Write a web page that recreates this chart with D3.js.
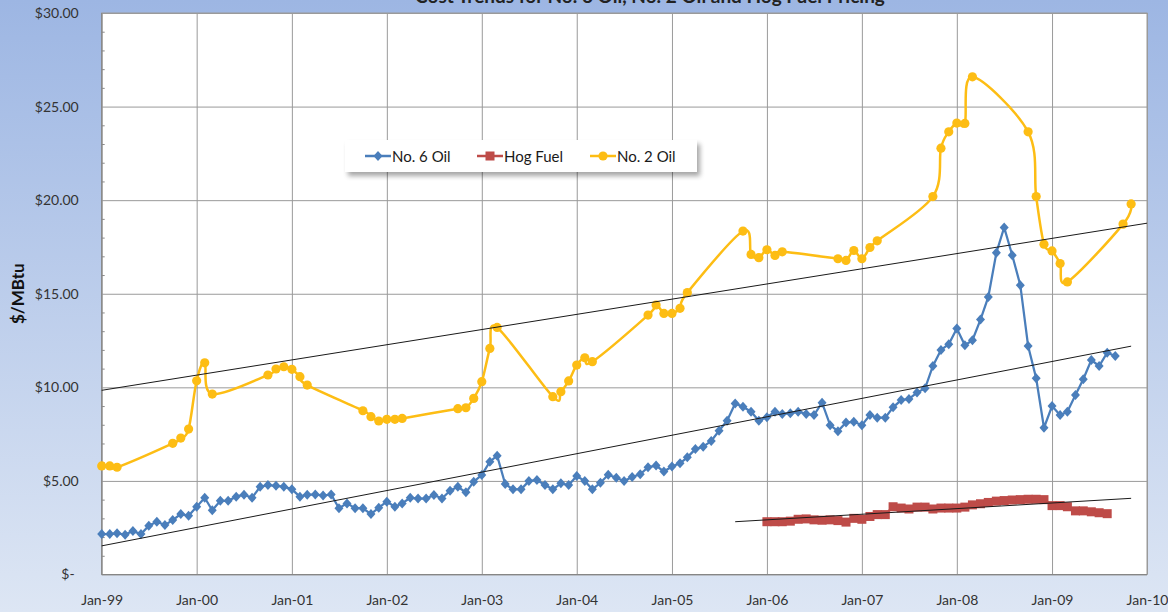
<!DOCTYPE html>
<html>
<head>
<meta charset="utf-8">
<script src="https://cdn.jsdelivr.net/npm/d3@7"></script>
<style>
  body { margin: 0; background: #fff; }
  svg { display: block; font-family: Lato, "Open Sans", sans-serif; }
</style>
</head>
<body>
<svg id="chart" width="1168" height="612"></svg>
<script>
// No. 6 Oil - monthly, starting Jan-99
const no6Start = "1999-01";
const no6Values = [
  2.16, 2.16, 2.20, 2.13, 2.32, 2.16, 2.61, 2.82, 2.64, 2.91, 3.23, 3.14,
  3.62, 4.10, 3.43, 3.94, 3.94, 4.16, 4.26, 4.10, 4.69, 4.78, 4.74, 4.69,
  4.55, 4.16, 4.26, 4.28, 4.22, 4.28, 3.54, 3.80, 3.54, 3.54, 3.23, 3.57,
  3.89, 3.62, 3.80, 4.10, 4.06, 4.06, 4.25, 4.06, 4.48, 4.69, 4.39, 4.96,
  5.32, 6.03, 6.35, 4.83, 4.55, 4.55, 4.99, 5.05, 4.78, 4.55, 4.87, 4.78,
  5.26, 4.99, 4.55, 4.90, 5.33, 5.17, 4.99, 5.21, 5.35, 5.73, 5.82, 5.50,
  5.77, 5.94, 6.26, 6.70, 6.83, 7.13, 7.68, 8.22, 9.14, 8.96, 8.70, 8.22,
  8.40, 8.70, 8.58, 8.61, 8.70, 8.58, 8.52, 9.18, 7.98, 7.66, 8.12, 8.16,
  7.98, 8.52, 8.38, 8.38, 8.93, 9.32, 9.38, 9.72, 9.95, 11.14, 12.00, 12.30,
  13.14, 12.25, 12.52, 13.62, 14.83, 17.19, 18.54, 17.06, 15.46, 12.21, 10.48, 7.84,
  9.00, 8.52, 8.70, 9.59, 10.43, 11.46, 11.14, 11.85, 11.67
];

// No. 2 Oil - heating season months only
const no2Months = [
  "1999-01", "1999-02", "1999-03", "1999-10", "1999-11", "1999-12",
  "2000-01", "2000-02", "2000-03", "2000-10", "2000-11", "2000-12",
  "2001-01", "2001-02", "2001-03", "2001-10", "2001-11", "2001-12",
  "2002-01", "2002-02", "2002-03", "2002-10", "2002-11", "2002-12",
  "2003-01", "2003-02", "2003-03", "2003-10", "2003-11", "2003-12",
  "2004-01", "2004-02", "2004-03", "2004-10", "2004-11", "2004-12",
  "2005-01", "2005-02", "2005-03", "2005-10", "2005-11", "2005-12",
  "2006-01", "2006-02", "2006-03", "2006-10", "2006-11", "2006-12",
  "2007-01", "2007-02", "2007-03", "2007-10", "2007-11", "2007-12",
  "2008-01", "2008-02", "2008-03", "2008-10", "2008-11", "2008-12",
  "2009-01", "2009-02", "2009-03", "2009-10", "2009-11"
];
const no2Values = [
  5.80, 5.80, 5.73, 7.01, 7.29, 7.77,
  10.35, 11.31, 9.64, 10.66, 10.98, 11.10,
  10.96, 10.57, 10.12, 8.75, 8.43, 8.20,
  8.29, 8.29, 8.34, 8.86, 8.91, 9.41,
  10.30, 12.08, 13.20, 9.50, 9.77, 10.34,
  11.19, 11.58, 11.37, 13.86, 14.40, 13.95,
  13.95, 14.22, 15.06, 18.35, 17.10, 16.93,
  17.35, 17.05, 17.24, 16.87, 16.78, 17.31,
  16.87, 17.47, 17.83, 20.19, 22.78, 23.65,
  24.12, 24.10, 26.59, 23.65, 20.19, 17.65,
  17.29, 16.61, 15.63, 18.72, 19.80
];

// Hog Fuel - monthly, starting Jan-06
const hogStart = "2006-01";
const hogValues = [
  2.82, 2.82, 2.82, 2.85, 2.95, 2.97, 2.92, 2.90, 2.92, 2.88, 2.80, 3.00,
  2.95, 3.10, 3.20, 3.20, 3.62, 3.55, 3.50, 3.60, 3.60, 3.50, 3.55, 3.55,
  3.55, 3.60, 3.72, 3.78, 3.85, 3.92, 3.95, 3.98, 4.00, 4.02, 4.02, 4.00,
  3.68, 3.68, 3.62, 3.40, 3.40, 3.35, 3.30, 3.25
];

// linear trend lines, end points
const trend6 = [["1999-01", 1.53], ["2009-11", 12.20]];
const trend2 = [["1999-01", 9.84], ["2010-01", 18.77]];
const trendHog = [["2005-09", 2.82], ["2009-11", 4.07]];

const yTicks = [0, 5, 10, 15, 20, 25, 30];
const yMinorTicks = d3.range(1, 30).filter(v => v % 5 !== 0);
const xTickYears = ["1999", "2000", "2001", "2002", "2003", "2004", "2005", "2006", "2007", "2008", "2009", "2010"];

const seriesNames = ["No. 6 Oil", "Hog Fuel", "No. 2 Oil"];
const colors = { no6: "#4a7ebb", hog: "#be4b48", no2: "#fdbd14" };

const parseMonth = d3.timeParse("%Y-%m");

const svg = d3.select("#chart");
const W = 1168, H = 612;
const plot = { left: 101.7, right: 1147, top: 13, bottom: 574.5 };

// background gradient around the plot
const defs = svg.append("defs");
const grad = defs.append("linearGradient").attr("id", "bg")
    .attr("x1", 0).attr("y1", 0).attr("x2", 0).attr("y2", 1);
grad.append("stop").attr("offset", "0%").attr("stop-color", "#9db6e3");
grad.append("stop").attr("offset", "100%").attr("stop-color", "#dde6f4");

const shadow = defs.append("filter").attr("id", "shadow")
    .attr("x", "-10%").attr("y", "-30%").attr("width", "130%").attr("height", "190%");
shadow.append("feGaussianBlur").attr("stdDeviation", 2.5);

svg.append("rect").attr("width", W).attr("height", H).attr("fill", "url(#bg)");

// title, mostly cut off at the top
svg.append("text")
    .attr("x", 650).attr("y", 3)
    .attr("text-anchor", "middle")
    .attr("font-size", 19).attr("font-weight", "bold")
    .attr("fill", "#222")
    .text("Cost Trends for No. 6 Oil, No. 2 Oil and Hog Fuel Pricing");

// scales
const x = d3.scaleTime()
    .domain([parseMonth("1999-01"), parseMonth("2010-01")])
    .range([plot.left, plot.right]);
const y = d3.scaleLinear()
    .domain([0, 30])
    .range([plot.bottom, plot.top]);

svg.append("rect")
    .attr("x", plot.left).attr("y", plot.top)
    .attr("width", plot.right - plot.left).attr("height", plot.bottom - plot.top)
    .attr("fill", "#fff").attr("stroke", "#9a9a9a");

const xTickDates = xTickYears.map(yr => parseMonth(yr + "-01"));

// grid lines
svg.append("g")
    .attr("transform", `translate(0,${plot.bottom})`)
    .call(d3.axisBottom(x).tickValues(xTickDates).tickSize(-(plot.bottom - plot.top)).tickFormat(""))
    .call(g => g.select(".domain").remove())
    .call(g => g.selectAll("line").attr("stroke", "#9a9a9a"));

svg.append("g")
    .attr("transform", `translate(${plot.left},0)`)
    .call(d3.axisLeft(y).tickValues(yTicks).tickSize(-(plot.right - plot.left)).tickFormat(""))
    .call(g => g.select(".domain").remove())
    .call(g => g.selectAll("line").attr("stroke", "#9a9a9a"));

// minor ticks on the value axis (inside)
svg.append("g")
    .attr("transform", `translate(${plot.left},0)`)
    .call(d3.axisRight(y).tickValues(yMinorTicks).tickSize(3).tickFormat(""))
    .call(g => g.select(".domain").remove())
    .call(g => g.selectAll("line").attr("stroke", "#8a8a8a"));

// axis lines
svg.append("line")
    .attr("x1", plot.left).attr("x2", plot.left)
    .attr("y1", plot.top).attr("y2", plot.bottom)
    .attr("stroke", "#868686");
svg.append("line")
    .attr("x1", plot.left).attr("x2", plot.right)
    .attr("y1", plot.bottom).attr("y2", plot.bottom)
    .attr("stroke", "#868686");

// tick labels
const fmtMoney = d3.format("$,.2f");
svg.append("g")
    .attr("transform", `translate(${plot.left - 20},0)`)
    .call(d3.axisLeft(y).tickValues(yTicks).tickSize(0)
        .tickFormat(d => d === 0 ? "$-" : fmtMoney(d)))
    .call(g => g.select(".domain").remove())
    .call(g => g.selectAll("text")
        .attr("font-family", "Lato, sans-serif")
        .attr("font-size", 14).attr("fill", "#333")
        .attr("dx", d => d === 0 ? -4 : 0));

svg.append("g")
    .attr("transform", `translate(0,${plot.bottom + 18})`)
    .call(d3.axisBottom(x).tickValues(xTickDates).tickSize(0).tickFormat(d3.timeFormat("%b-%y")))
    .call(g => g.select(".domain").remove())
    .call(g => g.selectAll("text")
        .attr("font-family", "Lato, sans-serif")
        .attr("font-size", 14).attr("fill", "#333"));

// y axis title
svg.append("text")
    .attr("transform", `translate(24,${(plot.top + plot.bottom) / 2}) rotate(-90)`)
    .attr("text-anchor", "middle")
    .attr("font-size", 17).attr("font-weight", "bold")
    .attr("fill", "#111")
    .text("$/MBtu");

// build data
const no6Data = no6Values.map((v, i) => ({ date: d3.timeMonth.offset(parseMonth(no6Start), i), value: v }));
const no2Data = no2Months.map((m, i) => ({ date: parseMonth(m), value: no2Values[i] }));
const hogData = hogValues.map((v, i) => ({ date: d3.timeMonth.offset(parseMonth(hogStart), i), value: v }));

const lineStraight = d3.line().x(d => x(d.date)).y(d => y(d.value));
const lineSmooth = d3.line().x(d => x(d.date)).y(d => y(d.value)).curve(d3.curveCardinal.tension(0));

const diamond = "M0,-5L4.5,0L0,5L-4.5,0Z";

// Hog fuel
svg.append("path").datum(hogData)
    .attr("d", lineStraight)
    .attr("fill", "none").attr("stroke", colors.hog).attr("stroke-width", 2.5);
svg.append("g").selectAll("rect").data(hogData).join("rect")
    .attr("x", d => x(d.date) - 4.5).attr("y", d => y(d.value) - 4.5)
    .attr("width", 9).attr("height", 9)
    .attr("fill", colors.hog);

// No. 6 oil
svg.append("path").datum(no6Data)
    .attr("d", lineStraight)
    .attr("fill", "none").attr("stroke", colors.no6).attr("stroke-width", 2.25);
svg.append("g").selectAll("path").data(no6Data).join("path")
    .attr("transform", d => `translate(${x(d.date)},${y(d.value)})`)
    .attr("d", diamond)
    .attr("fill", colors.no6);

// No. 2 oil
svg.append("path").datum(no2Data)
    .attr("d", lineSmooth)
    .attr("fill", "none").attr("stroke", colors.no2).attr("stroke-width", 2.5);
svg.append("g").selectAll("circle").data(no2Data).join("circle")
    .attr("cx", d => x(d.date)).attr("cy", d => y(d.value))
    .attr("r", 4.6)
    .attr("fill", colors.no2);

// trend lines
[trend2, trend6, trendHog].forEach(t => {
  svg.append("line")
      .attr("x1", x(parseMonth(t[0][0]))).attr("y1", y(t[0][1]))
      .attr("x2", x(parseMonth(t[1][0]))).attr("y2", y(t[1][1]))
      .attr("stroke", "#1a1a1a").attr("stroke-width", 1);
});

// legend
const lg = svg.append("g").attr("transform", "translate(345,140)");
lg.append("rect").attr("x", 3).attr("y", 4).attr("width", 352).attr("height", 32)
    .attr("fill", "#000").attr("opacity", 0.35).attr("filter", "url(#shadow)");
lg.append("rect").attr("width", 352).attr("height", 32).attr("fill", "#fff");

const legendItems = [
  { name: seriesNames[0], color: colors.no6, mark: "diamond", x: 20 },
  { name: seriesNames[1], color: colors.hog, mark: "square", x: 132 },
  { name: seriesNames[2], color: colors.no2, mark: "circle", x: 245 }
];
legendItems.forEach(it => {
  const g = lg.append("g").attr("transform", `translate(${it.x},16)`);
  g.append("line").attr("x1", 0).attr("x2", 26)
      .attr("stroke", it.color).attr("stroke-width", 2.5);
  if (it.mark === "diamond") {
    g.append("path").attr("transform", "translate(13,0)").attr("d", diamond).attr("fill", it.color);
  } else if (it.mark === "square") {
    g.append("rect").attr("x", 8.5).attr("y", -4.5).attr("width", 9).attr("height", 9).attr("fill", it.color);
  } else {
    g.append("circle").attr("cx", 13).attr("r", 4.6).attr("fill", it.color);
  }
  g.append("text").attr("x", 27).attr("y", 5.5)
      .attr("font-size", 15).attr("fill", "#1a1a1a")
      .text(it.name);
});
</script>
</body>
</html>
